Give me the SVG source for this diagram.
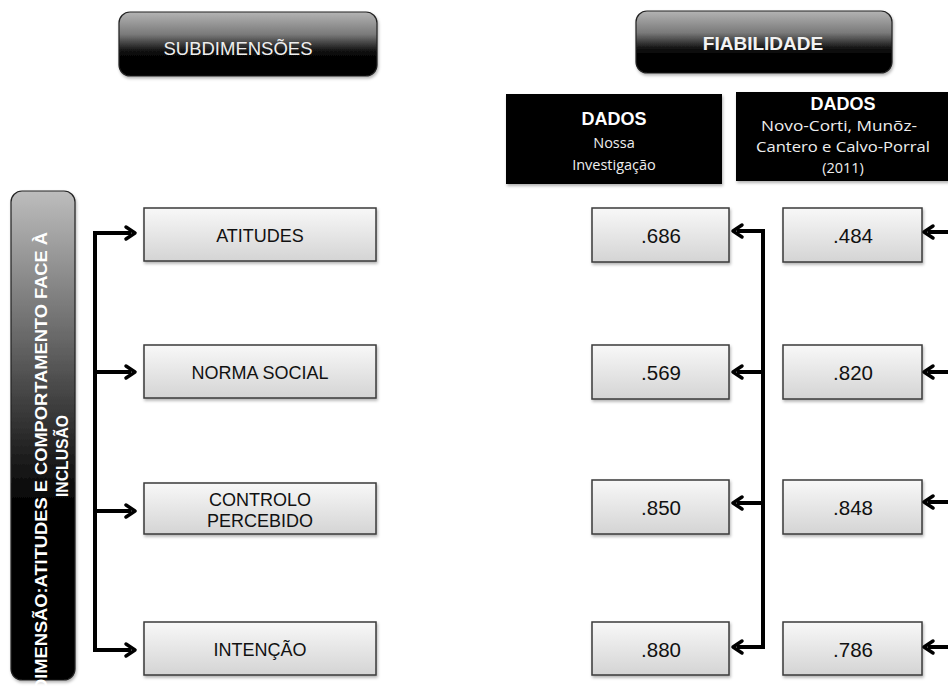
<svg xmlns="http://www.w3.org/2000/svg" width="948" height="691" viewBox="0 0 948 691">
  <defs>
    <!-- glossy dark header buttons: light grey top fading to black -->
    <linearGradient id="gloss" x1="0" y1="0" x2="0" y2="1">
      <stop offset="0" stop-color="#b4b4b4"/>
      <stop offset="0.35" stop-color="#7a7a7a"/>
      <stop offset="0.6" stop-color="#141414"/>
      <stop offset="0.72" stop-color="#000"/>
      <stop offset="1" stop-color="#000"/>
    </linearGradient>
    <linearGradient id="glossTall" x1="0" y1="0" x2="0" y2="1">
      <stop offset="0" stop-color="#bdbdbd"/>
      <stop offset="0.3" stop-color="#686868"/>
      <stop offset="0.55" stop-color="#1c1c1c"/>
      <stop offset="0.65" stop-color="#000"/>
      <stop offset="1" stop-color="#000"/>
    </linearGradient>
    <!-- light grey fill of the item boxes -->
    <linearGradient id="pale" x1="0" y1="0" x2="0" y2="1">
      <stop offset="0" stop-color="#f8f8f8"/>
      <stop offset="1" stop-color="#d4d4d4"/>
    </linearGradient>
    <filter id="shadow" x="-10%" y="-20%" width="130%" height="150%">
      <feDropShadow dx="1" dy="2" stdDeviation="1.5" flood-color="#000" flood-opacity="0.3"/>
    </filter>
    <marker id="chev" markerUnits="userSpaceOnUse" viewBox="0 0 14 16" markerWidth="14" markerHeight="16" refX="8" refY="8" orient="auto" overflow="visible">
      <path d="M3,2 L12,8 L3,14" fill="none" stroke="#000" stroke-width="3.5" stroke-linejoin="round" stroke-linecap="round"/>
    </marker>
    <style>
      .btn { stroke: #222; stroke-width: 1.2; filter: url(#shadow); }
      .item { fill: url(#pale); stroke: #3a3a3a; stroke-width: 1.5; filter: url(#shadow); }
      .dark { fill: #000; filter: url(#shadow); }
      .lbl { font-family: "Liberation Sans", Arial, sans-serif; font-size: 18px; fill: #111; text-anchor: middle; }
      .val { font-family: "Liberation Sans", Arial, sans-serif; font-size: 20.5px; fill: #111; text-anchor: middle; }
      .head { font-family: "Liberation Sans", Arial, sans-serif; font-size: 18.5px; fill: #eee; text-anchor: middle; }
      .headb { font-family: "Liberation Sans", Arial, sans-serif; font-size: 19px; font-weight: bold; fill: #f2f2f2; text-anchor: middle; }
      .dt { font-family: "Liberation Sans", Arial, sans-serif; font-size: 18px; font-weight: bold; fill: #fff; text-anchor: middle; }
      .ds { font-family: "Open Sans", "Noto Sans", sans-serif; font-size: 14.5px; fill: #eee; text-anchor: middle; }
      .vt { font-family: "Liberation Sans", Arial, sans-serif; font-size: 17px; font-weight: bold; fill: #fff; text-anchor: middle; }
      .wire { fill: none; stroke: #000; stroke-width: 4; }
      .arrow { fill: none; stroke: #000; stroke-width: 4; marker-end: url(#chev); }
    </style>
  </defs>

  <rect width="948" height="691" fill="#fff"/>

  <!-- column headers -->
  <g id="subdimensoes">
    <rect class="btn" x="119" y="12" width="258" height="64" rx="11" fill="url(#gloss)"/>
    <text class="head" x="238" y="55">SUBDIMENSÕES</text>
  </g>
  <g id="fiabilidade">
    <rect class="btn" x="636" y="11" width="256" height="62" rx="11" fill="url(#gloss)"/>
    <text class="headb" x="763" y="50">FIABILIDADE</text>
  </g>

  <g id="dados-nossa">
    <rect class="dark" x="506" y="94" width="216" height="90"/>
    <text class="dt" x="614" y="125">DADOS</text>
    <text class="ds" x="614" y="148">Nossa</text>
    <text class="ds" x="614" y="170">Investigação</text>
  </g>
  <g id="dados-novo-corti">
    <rect class="dark" x="736" y="92" width="216" height="89"/>
    <text class="dt" x="843" y="110">DADOS</text>
    <text class="ds" x="839" y="131" textLength="156" lengthAdjust="spacingAndGlyphs">Novo-Corti, Munõz-</text>
    <text class="ds" x="843" y="152" textLength="174" lengthAdjust="spacingAndGlyphs">Cantero e Calvo-Porral</text>
    <text class="ds" x="843" y="173">(2011)</text>
  </g>

  <!-- dimension bar on the left -->
  <g id="dimensao">
    <rect class="btn" x="11" y="191" width="64" height="489" rx="11" fill="url(#glossTall)"/>
    <text class="vt" transform="translate(47,462) rotate(-90)" textLength="460" lengthAdjust="spacingAndGlyphs">DIMENSÃO:ATITUDES E COMPORTAMENTO FACE À</text>
    <text class="vt" transform="translate(68,456) rotate(-90)" textLength="82" lengthAdjust="spacingAndGlyphs">INCLUSÃO</text>
  </g>

  <!-- sub-dimensions -->
  <g id="atitudes">
    <rect class="item" x="144" y="208" width="232" height="53"/>
    <text class="lbl" x="260" y="242">ATITUDES</text>
  </g>
  <g id="norma-social">
    <rect class="item" x="144" y="345" width="232" height="53"/>
    <text class="lbl" x="260" y="379">NORMA SOCIAL</text>
  </g>
  <g id="controlo-percebido">
    <rect class="item" x="144" y="483" width="232" height="51"/>
    <text class="lbl" x="260" y="506">CONTROLO</text>
    <text class="lbl" x="260" y="527">PERCEBIDO</text>
  </g>
  <g id="intencao">
    <rect class="item" x="144" y="622" width="232" height="53"/>
    <text class="lbl" x="260" y="656">INTENÇÃO</text>
  </g>

  <!-- reliability values, own data -->
  <g id="v686">
    <rect class="item" x="592" y="208" width="137" height="54"/>
    <text class="val" x="661" y="243">.686</text>
  </g>
  <g id="v569">
    <rect class="item" x="592" y="345" width="137" height="54"/>
    <text class="val" x="661" y="380">.569</text>
  </g>
  <g id="v850">
    <rect class="item" x="592" y="480" width="137" height="54"/>
    <text class="val" x="661" y="515">.850</text>
  </g>
  <g id="v880">
    <rect class="item" x="592" y="622" width="137" height="53"/>
    <text class="val" x="661" y="657">.880</text>
  </g>

  <!-- reliability values, Novo-Corti et al. -->
  <g id="v484">
    <rect class="item" x="783" y="208" width="139" height="54"/>
    <text class="val" x="853" y="243">.484</text>
  </g>
  <g id="v820">
    <rect class="item" x="783" y="345" width="139" height="54"/>
    <text class="val" x="853" y="380">.820</text>
  </g>
  <g id="v848">
    <rect class="item" x="783" y="480" width="139" height="54"/>
    <text class="val" x="853" y="515">.848</text>
  </g>
  <g id="v786">
    <rect class="item" x="783" y="622" width="139" height="53"/>
    <text class="val" x="853" y="657">.786</text>
  </g>

  <!-- connectors -->
  <g id="connectors">
    <line class="wire" x1="95" y1="231" x2="95" y2="652"/>
    <line class="arrow" x1="93" y1="233" x2="131" y2="233"/>
    <line class="arrow" x1="93" y1="372" x2="131" y2="372"/>
    <line class="arrow" x1="93" y1="511" x2="131" y2="511"/>
    <line class="arrow" x1="93" y1="650" x2="131" y2="650"/>

    <line class="wire" x1="763" y1="229" x2="763" y2="649"/>
    <line class="arrow" x1="765" y1="231" x2="737" y2="231"/>
    <line class="arrow" x1="765" y1="372" x2="737" y2="372"/>
    <line class="arrow" x1="765" y1="503" x2="737" y2="503"/>
    <line class="arrow" x1="765" y1="647" x2="737" y2="647"/>

    <line class="arrow" x1="960" y1="232" x2="928" y2="232"/>
    <line class="arrow" x1="960" y1="372" x2="928" y2="372"/>
    <line class="arrow" x1="960" y1="502" x2="928" y2="502"/>
    <line class="arrow" x1="960" y1="647" x2="928" y2="647"/>
  </g>
</svg>
